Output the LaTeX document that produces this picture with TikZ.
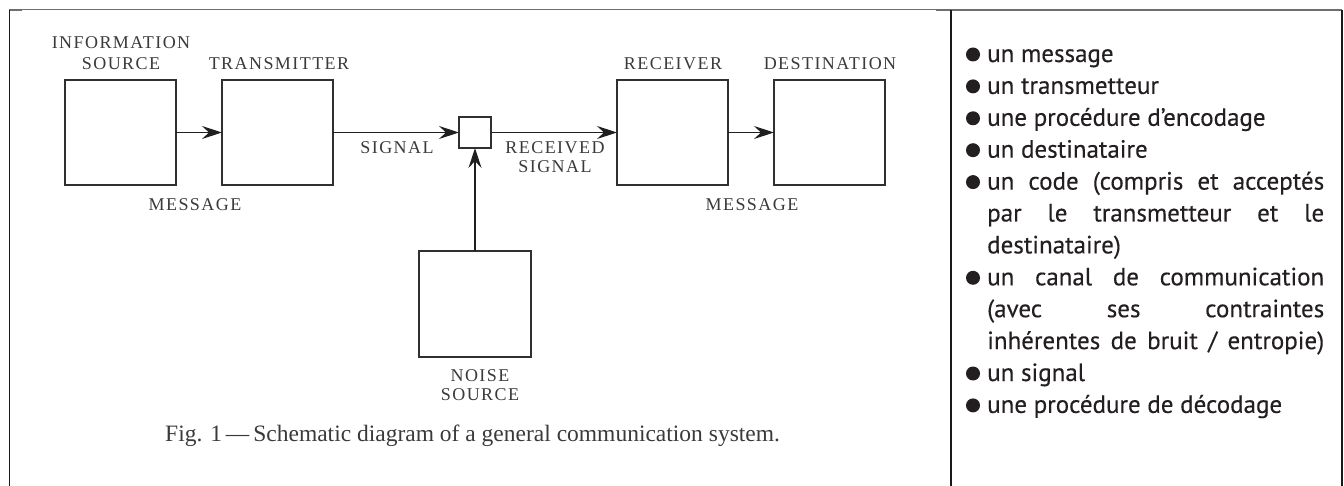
\documentclass[tikz,border=0pt]{standalone}
\usepackage{fontspec}
\setmainfont{Liberation Serif}
\newfontfamily\labelfont[LetterSpace=8]{Liberation Serif}
\newfontfamily\listfont[FakeBold=0.3]{PT Sans}
\usetikzlibrary{arrows.meta}

\definecolor{boxgray}{HTML}{303030}
\definecolor{labgray}{HTML}{3A3A3A}
\definecolor{rulegray}{HTML}{6E6E6E}
\definecolor{ink}{HTML}{231F20}

\tikzset{
  blk/.style={draw=boxgray, line width=1.3pt, minimum width=111pt,
    minimum height=105pt, inner sep=0pt, outer sep=0pt},
  mixbox/.style={draw=boxgray, line width=1.3pt, minimum width=32pt,
    minimum height=31pt, inner sep=0pt, outer sep=0pt},
  lbl/.style={font=\labelfont\fontsize{18}{20}\selectfont, text=labgray,
    anchor=base, inner sep=0pt},
  arr/.style={line width=1.3pt, draw=black!88,
    -{Stealth[length=20pt,width=13pt,inset=7pt]}},
  item/.style={font=\listfont\fontsize{25}{31}\selectfont, text=ink,
    anchor=base west, inner sep=0pt},
  dot/.style={circle, fill=ink, minimum size=14pt, inner sep=0pt},
  frame/.style={line width=1.3pt, draw=black!90},
}

\begin{document}
\begin{tikzpicture}[x=1pt,y=-1pt]
\useasboundingbox (0,0) rectangle (1344,486);

% table rules
\draw[rulegray, line width=1pt] (9.5,10) -- (936,10);
\draw[rulegray, line width=2pt] (936,10) -- (1342,10);
\draw[rulegray, line width=2pt] (9,10.5) -- (22,10.5);
\draw[frame] (9.5,10) -- (9.5,486);
\draw[frame] (951,10) -- (951,486);
\draw[frame] (1342,10) -- (1342,486);

% blocks of the communication system
\node[blk] (src) at (120.5,132.5) {};
\node[blk] (tx) at (277.5,132.5) {};
\node[mixbox] (mix) at (475,132.5) {};
\node[blk] (rx) at (672.5,132.5) {};
\node[blk] (dst) at (829.5,132.5) {};
\node[blk, minimum width=112pt, minimum height=106pt] (noise) at (475,304) {};

% connectors
\draw[arr] (src.east) -- (tx.west);
\draw[arr] (tx.east) -- (mix.west);
\draw[arr] (mix.east) -- (rx.west);
\draw[arr] (rx.east) -- (dst.west);
\draw[arr] (noise.north) -- (mix.south);

% block labels
\node[lbl] (srcA) at (121,49) {INFORMATION};
\node[lbl] (srcB) at (121,70) {SOURCE};
\node[lbl] (txL) at (279,70) {TRANSMITTER};
\node[lbl] (rxL) at (673,70) {RECEIVER};
\node[lbl] (dstL) at (830,70) {DESTINATION};
\node[lbl] (sigL) at (397,154) {SIGNAL};
\node[lbl] (rsA) at (555,154) {RECEIVED};
\node[lbl] (rsB) at (555,173) {SIGNAL};
\node[lbl] (msgA) at (195,210.5) {MESSAGE};
\node[lbl] (msgB) at (752,210.5) {MESSAGE};
\node[lbl] (nsA) at (480,381.5) {NOISE};
\node[lbl] (nsB) at (480,400) {SOURCE};

% caption
\node[font=\fontsize{23.5}{28}\selectfont, text=labgray, anchor=base west,
  inner sep=0pt] (cap) at (165,441)
  {Fig. 1\,—\,Schematic diagram of a general communication system.};

% list of components
\def\colw{337pt}
\def\tx{987}
\def\bx{973}
\node[dot] (b0) at (\bx,54.5) {};
\node[item] (l0) at (\tx,62) {un message};
\node[dot] (b1) at (\bx,86.4) {};
\node[item] (l1) at (\tx,93.9) {un transmetteur};
\node[dot] (b2) at (\bx,118.3) {};
\node[item] (l2) at (\tx,125.8) {une procédure d’encodage};
\node[dot] (b3) at (\bx,150.2) {};
\node[item] (l3) at (\tx,157.7) {un destinataire};
\node[dot] (b4) at (\bx,182.1) {};
\node[item] (l4) at (\tx,189.6) {\makebox[\colw][s]{un code (compris et acceptés}};
\node[item] (l5) at (\tx,221.5) {\makebox[\colw][s]{par le transmetteur et le}};
\node[item] (l6) at (\tx,253.4) {destinataire)};
\node[dot] (b7) at (\bx,277.8) {};
\node[item] (l7) at (\tx,285.3) {\makebox[\colw][s]{un canal de communication}};
\node[item] (l8) at (\tx,317.2) {\makebox[\colw][s]{(avec ses contraintes}};
\node[item] (l9) at (\tx,349.1) {\makebox[\colw][s]{inhérentes de bruit / entropie)}};
\node[dot] (b10) at (\bx,373.5) {};
\node[item] (l10) at (\tx,381) {un signal};
\node[dot] (b11) at (\bx,405.4) {};
\node[item] (l11) at (\tx,412.9) {une procédure de décodage};
\end{tikzpicture}
\end{document}
